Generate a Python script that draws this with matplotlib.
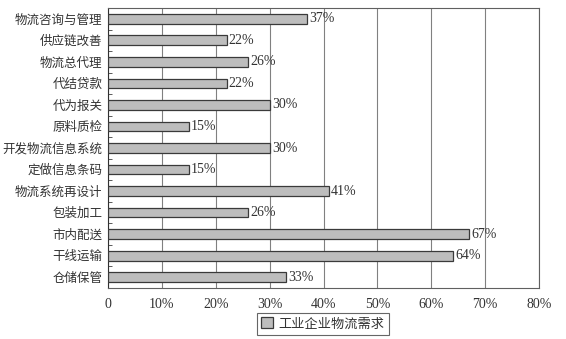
import matplotlib.pyplot as plt
import numpy as np

plt.rcParams['font.family'] = ['Liberation Serif', 'Noto Sans CJK SC']

categories = ['物流咨询与管理', '供应链改善', '物流总代理', '代结贷款', '代为报关',
              '原料质检', '开发物流信息系统', '定做信息条码', '物流系统再设计',
              '包装加工', '市内配送', '干线运输', '仓储保管']
values = [37, 22, 26, 22, 30, 15, 30, 15, 41, 26, 67, 64, 33]
xticks = [0, 10, 20, 30, 40, 50, 60, 70, 80]
xtick_labels = ['0', '10%', '20%', '30%', '40%', '50%', '60%', '70%', '80%']
series_name = '工业企业物流需求'

fig = plt.figure(figsize=(5.66, 3.39), dpi=100)
ax = fig.add_axes([108 / 566, 1 - 288 / 339, 431 / 566, 280 / 339])

y = np.arange(len(categories))[::-1]
ax.barh(y, values, height=0.45, color='#bdbdbd', edgecolor='#3a3a3a',
        linewidth=0.9, label=series_name, zorder=3)
for yi, v in zip(y, values):
    ax.text(v + 0.4, yi, f'{v}%', va='center', ha='left', fontsize=10, color='#333333')

ax.set_xlim(0, 80)
ax.set_ylim(-0.5, len(categories) - 0.5)
ax.set_xticks(xticks)
ax.set_xticklabels(xtick_labels, fontsize=10, color='#333333')
ax.tick_params(axis='x', length=0, pad=7)
ax.set_yticks(y)
ax.set_yticklabels(categories, fontsize=9, color='#333333')
ax.tick_params(axis='y', length=0, pad=4)
ax.set_yticks(np.arange(len(categories) + 1) - 0.5, minor=True)
ax.tick_params(axis='y', which='minor', length=3, direction='in', color='#404040')
ax.xaxis.grid(True, color='#808080', linewidth=0.8, zorder=0)
for s in ax.spines.values():
    s.set_color('#606060')
    s.set_linewidth(0.8)
ax.spines['left'].set_color('#303030')

leg = fig.legend(loc='center', bbox_to_anchor=(323 / 566, 1 - 324 / 339), fontsize=9.5,
                 frameon=True, fancybox=False, edgecolor='#404040',
                 handlelength=0.9, handleheight=0.9, handletextpad=0.4,
                 borderpad=0.35, labelcolor='#333333')
leg.get_frame().set_linewidth(0.8)

fig.savefig('out.png', dpi=100)
